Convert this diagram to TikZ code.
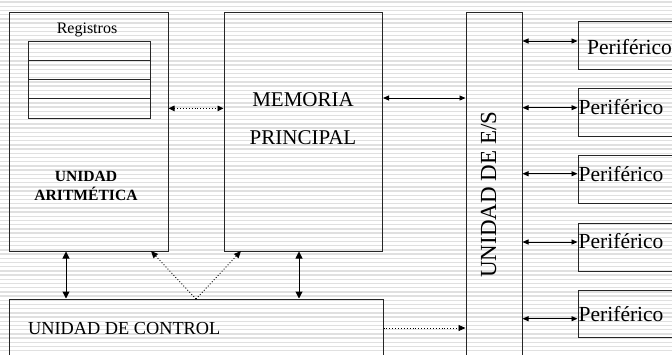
\documentclass[tikz,border=0pt]{standalone}
\usepackage{fontspec}
\setmainfont{Liberation Serif}
\usetikzlibrary{arrows.meta,calc}
\begin{document}
\begin{tikzpicture}[x=1pt,y=-1pt,
  box/.style={draw=black!85,line width=1pt,inner sep=0pt},
  lbl/.style={inner sep=0pt,text=black},
  conn/.style={line width=0.9pt,{Triangle[length=6pt,width=5pt]}-{Triangle[length=6pt,width=5pt]}},
  bconn/.style={line width=1pt,{Triangle[length=7pt,width=7pt]}-{Triangle[length=7pt,width=7pt]}},
  dconn/.style={line width=0.9pt,dotted,-{Triangle[length=7pt,width=6pt]}},
  ddconn/.style={line width=0.9pt,dotted,{Triangle[length=6pt,width=5.5pt]}-{Triangle[length=6pt,width=5.5pt]}},
  stripe/.style={draw=gray!24,line width=1.4pt}]
\useasboundingbox (0,0) rectangle (672,354);
\clip (0,0) rectangle (672,354);
\fill[white] (0,0) rectangle (672,354);
\foreach \i in {0,...,83} \draw[stripe] (0,2+4.2*\i) -- (672,2+4.2*\i);

% main boxes
\node[box,minimum width=158.5pt,minimum height=238.5pt] (alu) at (88.75,131.75) {};
\node[box,minimum width=158.5pt,minimum height=238.5pt] (mem) at (303.25,131.75) {};
\node[box,minimum width=56pt,minimum height=387pt] (es) at (494,206) {};
\node[box,minimum width=373.5pt,minimum height=101pt] (ctrl) at (196.25,349.5) {};

% registers
\foreach \k in {1,...,4}
  \node[box,minimum width=122pt,minimum height=19.25pt] (reg\k) at (89,{41+19.25*(\k-0.5)}) {};

% peripherals
\node[box,minimum width=122pt,minimum height=47.6pt] (p1) at (639,45.5) {};
\node[box,minimum width=122pt,minimum height=47.5pt] (p2) at (639,112.5) {};
\node[box,minimum width=122pt,minimum height=47.5pt] (p3) at (639,179.5) {};
\node[box,minimum width=122pt,minimum height=48pt] (p4) at (639,247) {};
\node[box,minimum width=122pt,minimum height=47.5pt] (p5) at (639,314) {};

% texts
\node[lbl,anchor=base,font=\fontsize{16}{18}\selectfont] (treg) at (87,33.3) {Registros};
\node[lbl,anchor=base,font=\fontsize{15.6}{18}\selectfont\bfseries] (tu) at (86,181) {UNIDAD};
\node[lbl,anchor=base,font=\fontsize{15.6}{18}\selectfont\bfseries] (tar) at (86,200.3) {ARITMÉTICA};
\node[lbl,anchor=base,font=\fontsize{21}{24}\selectfont] (tmem) at (303,106) {MEMORIA};
\node[lbl,anchor=base,font=\fontsize{21}{24}\selectfont] (tpri) at (303,144.3) {PRINCIPAL};
\node[lbl,anchor=base west,font=\fontsize{18.3}{21}\selectfont] (tctrl) at (28,334.7) {UNIDAD DE CONTROL};
\node[lbl,anchor=base west,rotate=90,font=\fontsize{23}{26}\selectfont] (tes) at (496,278) {UNIDAD DE E/S};
\node[lbl,anchor=base west,font=\fontsize{21.5}{24}\selectfont] (tp1) at (587,54.3) {Periférico};
\node[lbl,anchor=base west,font=\fontsize{21.5}{24}\selectfont] (tp2) at (578.5,114.3) {Periférico};
\node[lbl,anchor=base west,font=\fontsize{21.5}{24}\selectfont] (tp3) at (578.5,181.5) {Periférico};
\node[lbl,anchor=base west,font=\fontsize{21.5}{24}\selectfont] (tp4) at (578.5,248.7) {Periférico};
\node[lbl,anchor=base west,font=\fontsize{21.5}{24}\selectfont] (tp5) at (578.5,321) {Periférico};

% connector helper coordinates
\coordinate (ya1) at (0,41);
\coordinate (ya2) at (0,107.7);
\coordinate (ya3) at (0,173.7);
\coordinate (ya4) at (0,242);
\coordinate (ya5) at (0,318.7);
\coordinate (xm) at (0,98);
\coordinate (xc) at (0,328);
\coordinate (xa) at (66,0);
\coordinate (xb) at (299,0);
\coordinate (v) at (196,299);
\coordinate (va) at (151,251);
\coordinate (vb) at (241,251);

% connectors
\draw[ddconn] (alu.east |- reg4.center) -- (mem.west |- reg4.center);
\draw[conn] (mem.east |- xm) -- (es.west |- xm);
\draw[bconn] (alu.south -| xa) -- (ctrl.north -| xa);
\draw[bconn] (mem.south -| xb) -- (ctrl.north -| xb);
\draw[dconn] (v) -- (va);
\draw[dconn] (v) -- (vb);
\draw[dconn] (ctrl.east |- xc) -- (es.west |- xc);
\draw[conn] (es.east |- ya1) -- (p1.west |- ya1);
\draw[conn] (es.east |- ya2) -- (p2.west |- ya2);
\draw[conn] (es.east |- ya3) -- (p3.west |- ya3);
\draw[conn] (es.east |- ya4) -- (p4.west |- ya4);
\draw[conn] (es.east |- ya5) -- (p5.west |- ya5);
\end{tikzpicture}
\end{document}
